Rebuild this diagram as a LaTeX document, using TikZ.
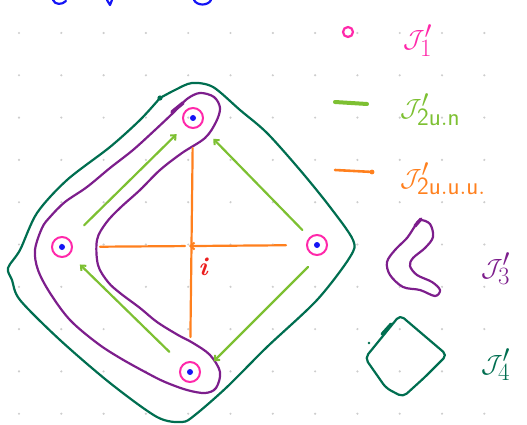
\documentclass[tikz,border=0pt]{standalone}
\usetikzlibrary{arrows.meta}
\definecolor{pinkc}{RGB}{255,40,170}
\definecolor{bluec}{RGB}{20,20,245}
\definecolor{limec}{RGB}{125,192,50}
\definecolor{orangec}{RGB}{255,128,30}
\definecolor{purplec}{RGB}{125,30,140}
\definecolor{dgreenc}{RGB}{0,110,80}
\definecolor{redc}{RGB}{235,30,30}
\definecolor{gridc}{RGB}{205,205,205}
\tikzset{
  pen/.style={line width=2.2pt, line cap=round, line join=round},
  vertex/.style={circle, draw=pinkc, line width=2pt, minimum size=20pt, inner sep=0pt},
  greenarr/.style={pen, draw=limec, -{Straight Barb[length=4pt,width=7pt,line width=2pt]}},
  orangeln/.style={pen, draw=orangec},
  lbl/.style={inner sep=0pt, anchor=base west, font=\fontsize{48}{48}\selectfont},
}
\begin{document}
\begin{tikzpicture}[x=1pt,y=-1pt]
\useasboundingbox (0,0) rectangle (527,425);
% dot grid
\foreach \i in {0,...,11}{
  \foreach \j in {0,...,9}{
    \fill[gridc] ({19+42.3*\i},{33+42.3*\j}) circle (1.2);
  }
}
% blue partial text at top
\draw[pen, draw=bluec] (53,0) .. controls (55,5) and (62,5) .. (66,1);
\draw[pen, draw=bluec] (107,0) -- (110,5) -- (112,0);
\draw[pen, draw=bluec] (194,0) .. controls (197,6) and (208,6) .. (211,0);

% outer green loop J4'
\draw[pen, draw=dgreenc] plot[smooth, tension=0.5] coordinates {
 (160,98) (175,90) (192,83) (213,87) (240,110) (267,133) (300,170) (330,207)
 (353,240) (350,257) (317,300) (267,347) (227,387) (195,415) (182,422) (157,417)
 (110,383) (60,340) (20,300) (12,280) (8,268) (20,250) (37,213) (67,180) (110,147)
 (140,120) (160,98)};
\fill[dgreenc] (160,98) circle (2.6);

% purple boomerang J3'
\draw[pen, draw=purplec] plot[smooth cycle, tension=0.55] coordinates {
 (200,93) (214,97) (220,108) (216,122) (205,138) (182,153) (160,170) (140,190)
 (120,208) (106,223) (97,240) (98,265) (108,282) (120,293) (140,308) (157,322)
 (178,335) (193,343) (210,355) (220,372) (216,388) (205,393) (187,390) (165,382)
 (147,373) (120,358) (97,343) (70,320) (50,293) (38,270) (35,250) (42,228)
 (50,217) (65,202) (87,187) (110,168) (133,150) (155,130) (173,113) (187,99)};
\draw[purplec, line width=3.6pt, line cap=round] (172,112) -- (183,103);

% vertices
\node[vertex] (topv) at (193,118) {};
\node[vertex] (leftv) at (62,247) {};
\node[vertex] (rightv) at (317,245) {};
\node[vertex] (botv) at (190,372) {};
\foreach \v in {topv,leftv,rightv,botv}{\fill[bluec] (\v.center) circle (3);}

% green arrows
\draw[greenarr, shorten <=20pt, shorten >=12pt] (leftv) -- (topv);
\draw[greenarr, shorten <=10pt, shorten >=18pt] (rightv) -- (topv);
\draw[greenarr, shorten <=18pt, shorten >=14pt] (botv) -- (leftv);
\draw[greenarr, shorten <=10pt, shorten >=14pt, transform canvas={shift={(6pt,-7pt)}}] (rightv) -- (botv);

% orange lines
\coordinate (ctr) at (194,246);
\draw[orangeln, shorten <=19pt, shorten >=24pt] (topv) -- (botv);
\draw[orangeln, -{Straight Barb[length=4pt,width=7pt,line width=2pt]}, shorten <=20pt, shorten >=-5pt] (rightv) -- (ctr);
\draw[orangeln, shorten <=9pt, shorten >=27pt] (ctr) -- (leftv);
\node[text=redc, font=\fontsize{26}{26}\selectfont\bfseries\itshape, inner sep=0pt] (ilbl) at (203,267) {i};

% legend
\draw[pen, draw=pinkc] (348,32) circle (5);
\node[lbl, text=pinkc] (l1) at (403,48) {$\mathcal{J}'_{\scriptscriptstyle 1}$};

\draw[limec, line width=4pt, line cap=round] (335,102) -- (367,104);
\node[lbl, text=limec] (l2) at (400,117) {$\mathcal{J}'_{\scriptscriptstyle\mathsf{2u.n}}$};

\draw[orangec, line width=2.6pt, line cap=round] (335,170) -- (373,172);
\fill[orangec] (372,172) circle (2.4);
\node[lbl, text=orangec] (l3) at (400,186) {$\mathcal{J}'_{\scriptscriptstyle\mathsf{2u.u.u.}}$};

\draw[pen, draw=purplec] plot[smooth cycle, tension=0.55] coordinates {
 (420,220) (430,224) (433,237) (425,248) (413,258) (410,266) (417,275) (432,282)
 (440,290) (435,296) (420,290) (403,287) (390,275) (387,262) (395,250) (407,238) (415,226)};
\draw[purplec, line width=3.4pt, line cap=round] (415,226) -- (421,219);
\node[lbl, text=purplec] (l4) at (481,276) {$\mathcal{J}'_{\scriptscriptstyle 3}$};

\draw[pen, draw=dgreenc, rounded corners=5pt] (400,315) -- (447,355) -- (425,377) -- (403,397) -- (386,388) -- (365,358) -- cycle;
\draw[dgreenc, line width=3pt, line cap=round] (382,334) -- (391,324);
\fill[dgreenc] (369,343) circle (1.3);
\node[lbl, text=dgreenc] (l5) at (481,372) {$\mathcal{J}'_{\scriptscriptstyle 4}$};
\end{tikzpicture}
\end{document}
